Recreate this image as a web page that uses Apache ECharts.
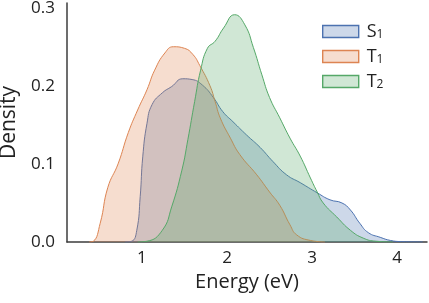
<!DOCTYPE html>
<html>
<head>
<meta charset="utf-8">
<script src="https://cdn.jsdelivr.net/npm/echarts@6/dist/echarts.min.js"></script>
<style>html,body{margin:0;padding:0;background:#fff}#c{width:429px;height:303px}</style>
</head>
<body>
<div id="c"></div>
<script>
var seriesNames = ['S1', 'T1', 'T2'];
var lineColors = ['#4C72B0', '#DD8452', '#55A868'];
var xTicks = [1, 2, 3, 4];
var yTicks = [0, 0.1, 0.2, 0.3];

var s1E = [0.80, 0.88, 0.94, 0.98, 1.01, 1.06, 1.12, 1.24, 1.35, 1.48, 1.59, 1.71, 1.84, 1.95, 2.07, 2.23, 2.39, 2.54, 2.70, 2.86, 3.06, 3.21, 3.35, 3.45, 3.56, 3.66, 3.80, 3.92, 4.05, 4.30];
var s1D = [0.000, 0.001, 0.015, 0.058, 0.109, 0.152, 0.176, 0.191, 0.199, 0.209, 0.208, 0.201, 0.185, 0.167, 0.154, 0.137, 0.121, 0.103, 0.086, 0.076, 0.063, 0.054, 0.050, 0.041, 0.024, 0.012, 0.006, 0.002, 0.0005, 0.0];

var t1E = [0.38, 0.43, 0.51, 0.60, 0.72, 0.84, 0.95, 1.06, 1.15, 1.27, 1.37, 1.50, 1.60, 1.68, 1.80, 1.86, 1.92, 2.04, 2.15, 2.35, 2.50, 2.62, 2.74, 2.82, 2.98, 3.15];
var t1D = [0.000, 0.001, 0.024, 0.070, 0.100, 0.140, 0.169, 0.195, 0.220, 0.242, 0.250, 0.248, 0.240, 0.226, 0.200, 0.180, 0.159, 0.133, 0.112, 0.086, 0.064, 0.047, 0.022, 0.009, 0.002, 0.0];

var t2E = [0.95, 1.06, 1.24, 1.35, 1.47, 1.54, 1.62, 1.69, 1.77, 1.86, 1.96, 2.09, 2.21, 2.31, 2.41, 2.50, 2.62, 2.74, 2.86, 2.98, 3.06, 3.13, 3.29, 3.45, 3.60, 3.75, 3.95];
var t2D = [0.000, 0.001, 0.015, 0.045, 0.092, 0.131, 0.180, 0.220, 0.248, 0.257, 0.274, 0.291, 0.278, 0.249, 0.214, 0.185, 0.159, 0.133, 0.110, 0.082, 0.064, 0.050, 0.032, 0.015, 0.005, 0.001, 0.0];

var xs = [s1E, t1E, t2E];
var ys = [s1D, t1D, t2D];

function hexA(h, a) {
  var r = parseInt(h.substr(1, 2), 16), g = parseInt(h.substr(3, 2), 16), b = parseInt(h.substr(5, 2), 16);
  return 'rgba(' + r + ',' + g + ',' + b + ',' + a + ')';
}

var FONT = '"Open Sans", "Noto Sans", sans-serif';
var series = seriesNames.map(function (n, i) {
  return {
    name: n,
    type: 'line',
    smooth: 0.5,
    showSymbol: false,
    symbol: 'none',
    data: xs[i].map(function (x, j) { return [x, ys[i][j]]; }),
    lineStyle: { color: lineColors[i], width: 1 },
    itemStyle: { color: lineColors[i] },
    areaStyle: { color: hexA(lineColors[i], 0.28), opacity: 1 },
    z: 2 + i
  };
});

var chart = echarts.init(document.getElementById('c'), null, { renderer: 'canvas' });
chart.setOption({
  animation: false,
  backgroundColor: '#fff',
  grid: { left: 67, right: 2, top: 3, bottom: 61, containLabel: false, outerBoundsMode: 'none' },
  legend: {
    orient: 'vertical',
    left: 317,
    top: 17,
    itemWidth: 36,
    itemHeight: 12,
    itemGap: 6,
    icon: 'rect',
    data: seriesNames.map(function (n, i) {
      return { name: n, itemStyle: { color: hexA(lineColors[i], 0.28), borderColor: lineColors[i], borderWidth: 1.4 } };
    }),
    formatter: function (n) { return '{m|' + n.charAt(0) + '}{s|' + n.substr(1) + '}'; },
    textStyle: {
      padding: [0, 0, 0, 3],
      rich: {
        m: { fontFamily: FONT, fontSize: 18, color: '#222', lineHeight: 19 },
        s: { fontFamily: FONT, fontSize: 12, color: '#222', lineHeight: 19, padding: [7, 0, 0, 0] }
      }
    }
  },
  xAxis: {
    type: 'value',
    min: 0.12,
    max: 4.35,
    name: 'Energy (eV)',
    nameLocation: 'middle',
    nameGap: 30,
    nameTextStyle: { fontFamily: FONT, fontSize: 20, color: '#222' },
    axisLine: { show: true, onZero: false, lineStyle: { color: '#3c3c3c', width: 1.5 } },
    axisTick: { show: false },
    splitLine: { show: false },
    axisLabel: { customValues: xTicks, fontFamily: FONT, fontSize: 17, color: '#222', margin: 8 }
  },
  yAxis: {
    type: 'value',
    min: 0,
    max: 0.306,
    name: 'Density',
    nameLocation: 'middle',
    nameGap: 47,
    nameTextStyle: { fontFamily: FONT, fontSize: 21, color: '#222' },
    axisLine: { show: true, lineStyle: { color: '#3c3c3c', width: 1.5 } },
    axisTick: { show: false },
    splitLine: { show: false },
    axisLabel: {
      customValues: yTicks, fontFamily: FONT, fontSize: 17, color: '#222', margin: 12,
      formatter: function (v) { return v.toFixed(1); }
    }
  },
  series: series
});
</script>
</body>
</html>
